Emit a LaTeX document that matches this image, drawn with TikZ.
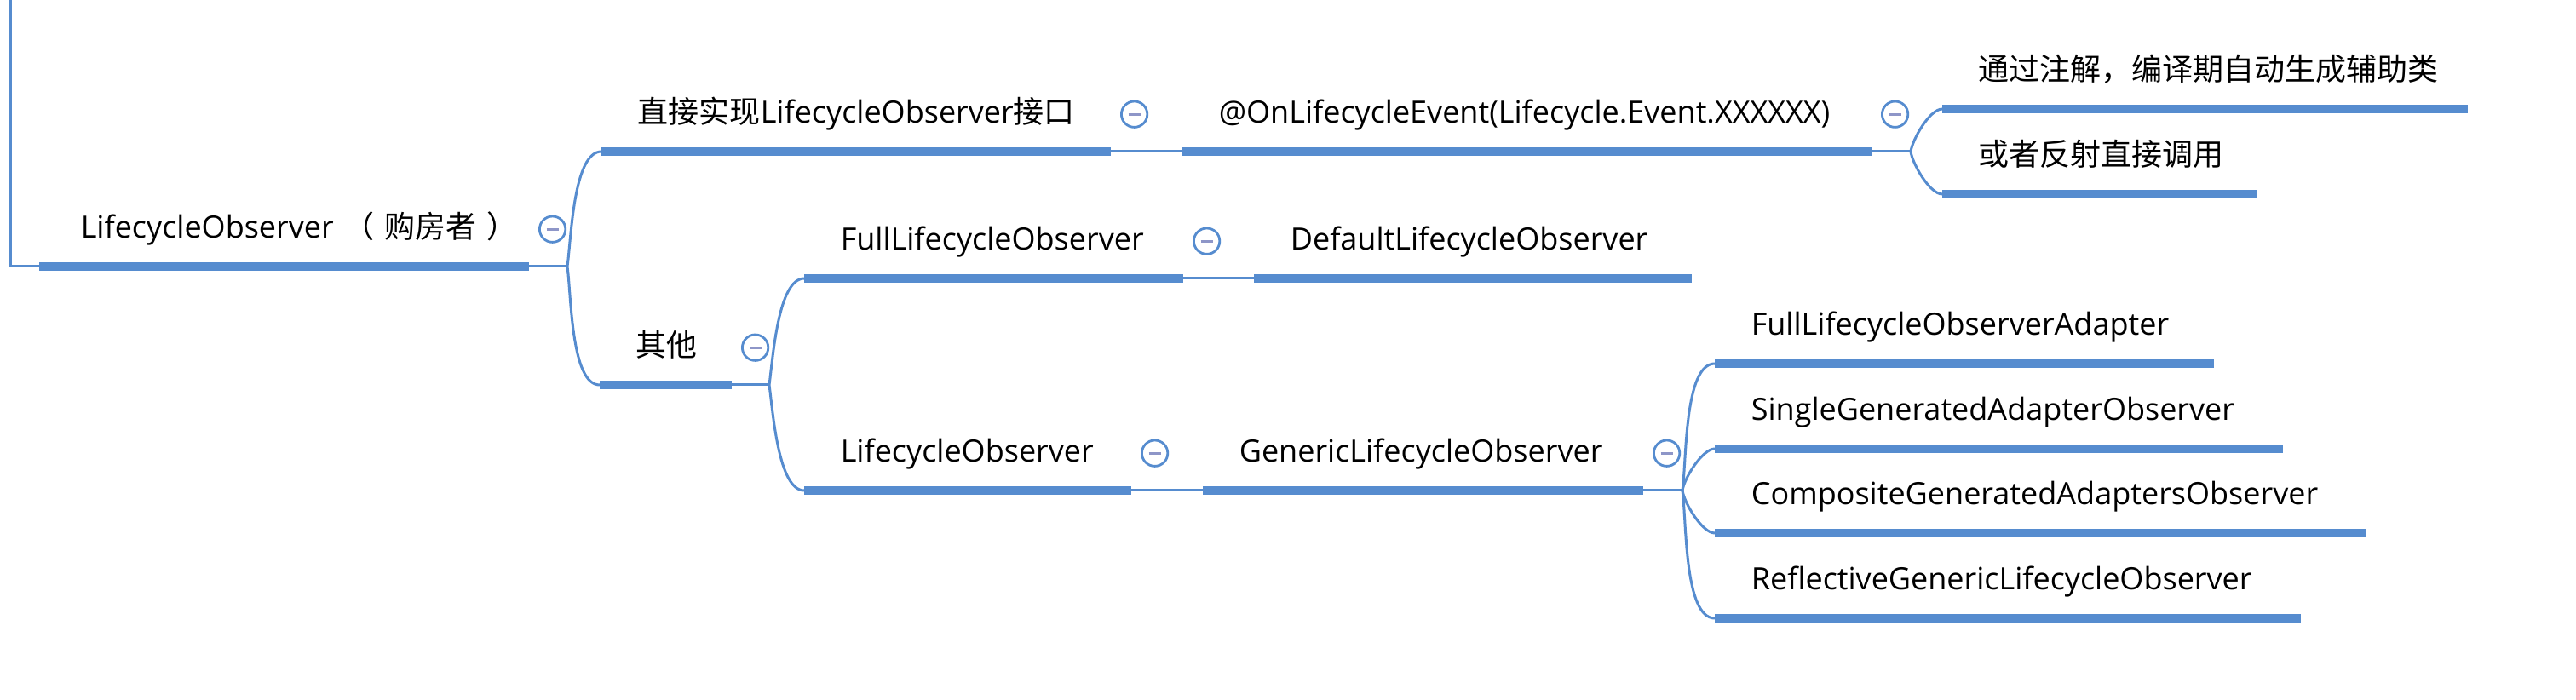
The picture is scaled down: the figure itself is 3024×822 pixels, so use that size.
\documentclass[tikz,border=0pt]{standalone}
\usepackage{fontspec}
\setmainfont{Open Sans}
\newfontfamily\cjk{Noto Sans CJK SC}
\usepackage{tikz}
\definecolor{mapblue}{HTML}{568CCF}
\definecolor{minusgrey}{HTML}{8E96C8}
\tikzset{topic/.style={anchor=south west, inner xsep=10.5pt, inner ysep=0pt, minimum height=21.5pt, text height=7pt, text depth=1.8pt, text width=#1, align=left, font=\fontsize{9pt}{11pt}\selectfont},
	bar/.style={draw=mapblue, line width=2.4pt},
	link/.style={draw=mapblue, line width=0.75pt},
	fold/.style={circle, draw=mapblue, line width=0.7pt, fill=white, minimum size=7.6pt, inner sep=0pt, path picture={\draw[minusgrey, line width=0.75pt] ([xshift=-1.75pt]path picture bounding box.center) -- ([xshift=1.75pt]path picture bounding box.center);}},
	up/.style={out=82, in=180, looseness=0.6},
	down/.style={out=-82, in=180, looseness=0.6}}

\begin{document}
\begin{tikzpicture}[x=0.25pt,y=0.25pt]
		\fill[white] (0,0) rectangle (3024,-822);
		\useasboundingbox (0,0) rectangle (3024,-822);
		% topics
		\node[topic=122.25pt] (root) at (46,-313) {\hbox{\hspace*{1.5pt}LifecycleObserver~{\cjk （~购房者~）}}};
		\node[topic=128pt] (direct) at (706,-178) {{\cjk 直接实现}LifecycleObserver{\cjk 接口}};
		\node[topic=180.75pt] (onevent) at (1388,-178) {@OnLifecycleEvent(Lifecycle.Event.XXXXXX)};
		\node[topic=132.75pt] (apt) at (2280,-128) {\cjk 通过注解，编译期自动生成辅助类};
		\node[topic=70.75pt] (reflect) at (2280,-228) {\cjk 或者反射直接调用};
		\node[topic=17.25pt] (other) at (704,-452) {\cjk 其他};
		\node[topic=89.75pt] (full) at (944,-327) {FullLifecycleObserver};
		\node[topic=107pt] (default) at (1472,-327) {DefaultLifecycleObserver};
		\node[topic=74.5pt] (lobs) at (944,-576) {LifecycleObserver};
		\node[topic=107.75pt] (generic) at (1412,-576) {GenericLifecycleObserver};
		\node[topic=125pt] (fulladapter) at (2013,-427) {FullLifecycleObserverAdapter};
		\node[topic=145.25pt] (single) at (2013,-527) {SingleGeneratedAdapterObserver};
		\node[topic=169.75pt] (composite) at (2013,-626) {CompositeGeneratedAdaptersObserver};
		\node[topic=150.5pt] (reflective) at (2013,-726) {ReflectiveGenericLifecycleObserver};
		\foreach \n in {root,direct,onevent,apt,reflect,other,full,default,lobs,generic,fulladapter,single,composite,reflective}
			\draw[bar] (\n.south west) -- (\n.south east);
		% fold buttons
		\foreach \n in {root,direct,onevent,other,full,lobs,generic}
			\node[fold] (\n fold) at ([xshift=7pt]\n.east) {};
		% connectors
		\coordinate (top) at (12,0);
		\coordinate (j1) at (666,-313);
		\coordinate (j2) at (2243,-178);
		\coordinate (j3) at (903,-452);
		\coordinate (j4) at (1975,-576);
		\draw[link] (top) |- (root.south west);
		\draw[link] (root.south east) -- (j1);
		\draw[link] (j1) to[up] (direct.south west);
		\draw[link] (j1) to[down] (other.south west);
		\draw[link] (direct.south east) -- (onevent.south west);
		\draw[link] (onevent.south east) -- (j2);
		\draw[link] (j2) to[up] (apt.south west);
		\draw[link] (j2) to[down] (reflect.south west);
		\draw[link] (other.south east) -- (j3);
		\draw[link] (j3) to[up] (full.south west);
		\draw[link] (j3) to[down] (lobs.south west);
		\draw[link] (full.south east) -- (default.south west);
		\draw[link] (lobs.south east) -- (generic.south west);
		\draw[link] (generic.south east) -- (j4);
		\draw[link] (j4) to[up] (fulladapter.south west);
		\draw[link] (j4) to[up] (single.south west);
		\draw[link] (j4) to[down] (composite.south west);
		\draw[link] (j4) to[down] (reflective.south west);
\end{tikzpicture}
\end{document}
